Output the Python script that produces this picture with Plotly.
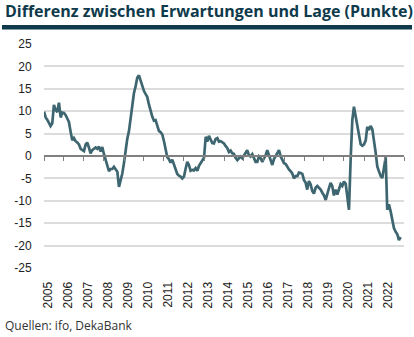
import plotly.graph_objects as go
import pandas as pd

# Monthly values, Jan 2005 - Nov 2022 (Erwartungen minus Lage, Punkte)
v2005 = [9.9, 8.6, 8.1, 7.4, 6.7, 7.3, 11.4, 10.3, 9.8, 11.9, 8.6, 9.7]
v2006 = [9.6, 9.1, 8.2, 7.6, 5.5, 3.5, 4.0, 3.3, 3.0, 2.6, 1.6, 1.3]
v2007 = [1.1, 2.6, 3.0, 1.9, 0.6, 1.3, 1.6, 1.9, 1.6, 2.1, 1.0, 2.0]
v2008 = [0.4, -0.9, -2.0, -3.4, -2.9, -2.9, -2.4, -2.9, -3.5, -6.9, -5.4, -3.9]
v2009 = [-1.5, 1.5, 3.8, 5.5, 8.5, 11.5, 14.0, 15.6, 17.5, 18.0, 16.8, 15.4]
v2010 = [14.5, 13.8, 13.2, 11.5, 10.0, 8.8, 7.9, 8.0, 6.8, 5.6, 5.3, 4.8]
v2011 = [3.3, 1.0, -0.2, -0.7, -1.5, -0.8, -1.8, -3.0, -4.0, -4.4, -4.6, -5.0]
v2012 = [-4.6, -2.8, -1.3, -2.0, -3.3, -3.1, -3.2, -2.7, -3.3, -2.2, -1.6, -1.0]
v2013 = [-0.4, 4.3, 3.2, 4.5, 3.5, 2.9, 2.8, 3.8, 4.0, 3.2, 3.3, 3.0]
v2014 = [2.8, 2.2, 1.8, 0.9, 1.2, 0.6, 0.5, -0.4, -0.9, -0.5, -0.1, -0.5]
v2015 = [0.2, 1.0, 1.3, 0.2, -0.1, 0.4, -0.5, -1.3, -1.3, -0.1, -0.5, -1.3]
v2016 = [-0.5, 0.2, 1.3, 0.2, -0.9, -2.0, -0.7, -0.1, 0.6, 1.3, -0.1, -1.0]
v2017 = [-1.6, -1.8, -2.5, -3.0, -3.4, -3.9, -5.0, -4.5, -4.5, -3.7, -3.8, -4.0]
v2018 = [-5.4, -6.0, -7.5, -5.6, -6.3, -7.8, -8.4, -7.1, -6.7, -7.1, -7.5, -8.2]
v2019 = [-8.8, -9.8, -8.3, -7.2, -6.0, -6.7, -8.8, -7.5, -8.6, -7.2, -6.3, -6.7]
v2020 = [-5.7, -6.2, -8.6, -12.0, -1.0, 8.0, 11.0, 9.0, 7.2, 5.0, 2.6, 2.3]
v2021 = [2.6, 3.5, 6.5, 5.8, 6.7, 6.0, 3.7, 0.8, -2.4, -3.4, -4.5, -4.9]
v2022 = [-2.5, -0.3, -12.0, -10.8, -12.3, -14.0, -16.1, -16.9, -17.5, -18.8, -18.1]

values = (v2005 + v2006 + v2007 + v2008 + v2009 + v2010 + v2011 + v2012 + v2013
          + v2014 + v2015 + v2016 + v2017 + v2018 + v2019 + v2020 + v2021 + v2022)
dates = pd.date_range("2005-01-01", periods=len(values), freq="MS")

y_ticks = [25, 20, 15, 10, 5, 0, -5, -10, -15, -20, -25]
y_ticktext = [str(t) for t in y_ticks]
year_labels = [str(y) for y in range(2005, 2023)]
year_ticks = [f"{y}-01-01" for y in range(2005, 2023)]

title_text = "Differenz zwischen Erwartungen und Lage (Punkte)"
source_text = "Quellen: ifo, DekaBank"

line_color = "#3e6670"
dark = "#0e3a4b"

fig = go.Figure()
fig.add_trace(go.Scatter(x=dates, y=values, mode="lines",
                         line=dict(color=line_color, width=2.7),
                         showlegend=False, hoverinfo="skip"))

W, H = 414, 337
L, R, T, B = 44, 10, 44, 69
ph = H - T - B
pw = W - L - R

def py(px):
    return (H - B - px) / ph

def pxx(px):
    return (px - L) / pw

fig.update_layout(
    width=W, height=H,
    margin=dict(l=L, r=R, t=T, b=B, autoexpand=False),
    paper_bgcolor="white", plot_bgcolor="white",
    title=dict(text=f"<b>{title_text}</b>", x=5 / W, xanchor="left",
               y=1 - 11 / H, yanchor="middle", yref="container",
               font=dict(family="Open Sans", size=16, color=dark)),
    xaxis=dict(type="date", range=["2005-01-01", "2023-01-01"],
               tickvals=year_ticks, ticktext=year_labels, tickangle=-90,
               showgrid=False, zeroline=False, showline=False,
               ticks="outside", ticklen=8, tickcolor="rgba(0,0,0,0)",
               ticklabelshift=4,
               tickfont=dict(family="Arial", size=12, color="#222")),
    xaxis2=dict(type="date", range=["2005-01-01", "2023-01-01"],
                overlaying="x", anchor="free", position=0.5,
                tickvals=year_ticks + ["2023-01-01"], showticklabels=False,
                showgrid=False, zeroline=False, showline=True,
                linecolor="#808080", linewidth=1.5,
                ticks="outside", ticklen=4, tickcolor="#808080", tickwidth=1.2),
    yaxis=dict(range=[-25, 25], tickvals=y_ticks, ticktext=y_ticktext,
               showgrid=True, gridcolor="#dcdcdc", gridwidth=1.5,
               zeroline=False, showline=False,
               ticks="outside", ticklen=9, tickcolor="rgba(0,0,0,0)",
               tickfont=dict(family="Arial", size=12, color="#222")),
    shapes=[dict(type="rect", xref="paper", yref="paper",
                 x0=pxx(2), x1=pxx(412), y0=py(29.5), y1=py(25),
                 fillcolor=dark, line=dict(width=0), layer="above")],
    annotations=[dict(text=source_text, xref="paper", yref="paper",
                      x=pxx(3), y=py(325), xanchor="left", yanchor="middle",
                      showarrow=False,
                      font=dict(family="Open Sans", size=12, color="#333"))],
)

# invisible helper trace so the zero-line axis (xaxis2) is drawn
fig.add_trace(go.Scatter(x=[dates[0]], y=[0], xaxis="x2", mode="markers",
                         marker=dict(opacity=0), showlegend=False, hoverinfo="skip"))

fig.write_html("out.html")
